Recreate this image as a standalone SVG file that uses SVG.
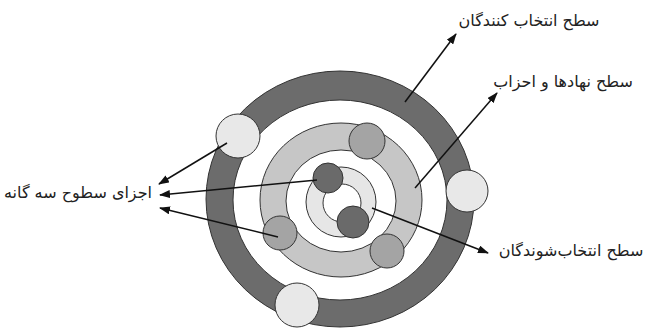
<svg xmlns="http://www.w3.org/2000/svg" width="646" height="329" viewBox="0 0 646 329">
<defs>
<marker id="ah" markerWidth="11" markerHeight="8" refX="10" refY="4" orient="auto" markerUnits="userSpaceOnUse">
<path d="M0,0 L11,4 L0,8 Z" fill="#111"/>
</marker>
<style>
.ol{stroke:#333;stroke-width:1}
.ring1{fill:#6c6c6c}
.ring2{fill:#c6c6c6}
.ring3{fill:#e6e6e6}
.wh{fill:#fff}
.lc{fill:#e8e8e8}
.mc{fill:#a4a4a4}
.dc{fill:#6a6a6a}
.ar{stroke:#111;stroke-width:1.5;fill:none;marker-end:url(#ah)}
.lb{font-family:"DejaVu Sans",sans-serif;font-size:16px;fill:#222;text-anchor:middle}
</style>
</defs>
<rect width="646" height="329" fill="#fff"/>
<g id="rings">
<ellipse class="ring1 ol" cx="340" cy="199" rx="134" ry="128"/>
<ellipse class="wh ol" cx="340" cy="200" rx="107" ry="100"/>
<ellipse class="ring2 ol" cx="341" cy="200" rx="81" ry="77"/>
<ellipse class="wh ol" cx="341" cy="201" rx="55" ry="51"/>
<ellipse class="ring3 ol" cx="341" cy="202" rx="35" ry="35"/>
<circle class="wh ol" cx="342" cy="203" r="19"/>
</g>
<g id="outer-circles">
<circle class="lc ol" cx="238" cy="136" r="22"/>
<circle class="lc ol" cx="467" cy="191" r="21"/>
<circle class="lc ol" cx="297" cy="305" r="22"/>
</g>
<g id="middle-circles">
<circle class="mc ol" cx="367" cy="141" r="18"/>
<circle class="mc ol" cx="280" cy="233" r="17"/>
<circle class="mc ol" cx="387" cy="251" r="17"/>
</g>
<g id="inner-circles">
<circle class="dc ol" cx="328" cy="178" r="15"/>
<circle class="dc ol" cx="353" cy="222" r="16"/>
</g>
<g id="connectors">
<line class="ar" x1="405" y1="102" x2="456" y2="34"/>
<line class="ar" x1="415" y1="188" x2="497" y2="93"/>
<line class="ar" x1="372" y1="208" x2="488" y2="253"/>
<line class="ar" x1="227" y1="143" x2="159" y2="184"/>
<line class="ar" x1="317" y1="180" x2="160" y2="195"/>
<line class="ar" x1="278" y1="237" x2="160" y2="208"/>
</g>
<g id="labels">
<text class="lb" x="529" y="26">سطح انتخاب کنندگان</text>
<text class="lb" x="563" y="87">سطح نهادها و احزاب</text>
<text class="lb" x="78" y="198">اجزای سطوح سه گانه</text>
<text class="lb" x="571" y="256">سطح انتخاب‌شوندگان</text>
</g>
</svg>
